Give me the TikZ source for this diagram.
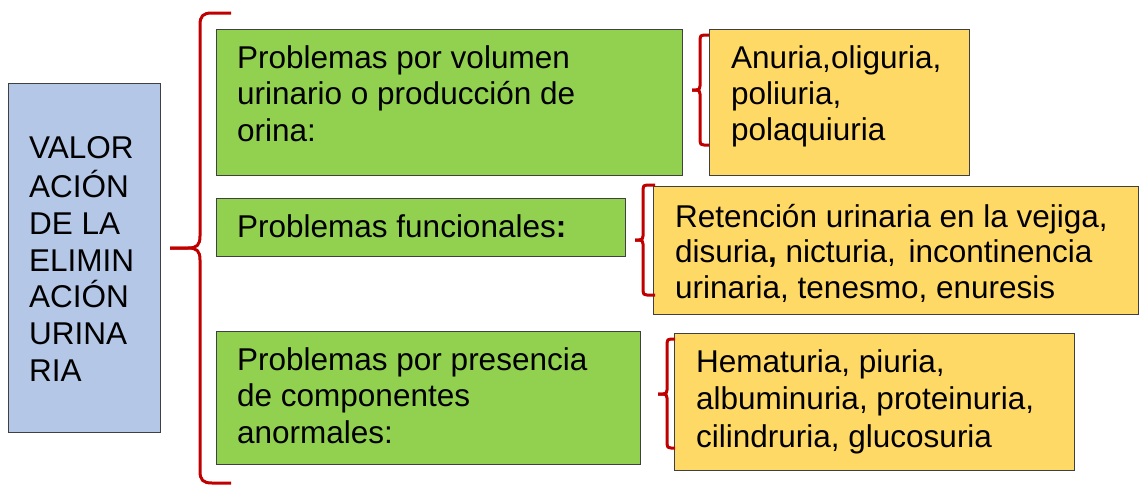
\documentclass[tikz,border=0pt]{standalone}
\usepackage{fontspec}
\setmainfont{Liberation Sans}
\definecolor{bluefill}{HTML}{B4C7E7}
\definecolor{greenfill}{HTML}{92D050}
\definecolor{yellowfill}{HTML}{FFD966}
\definecolor{bracered}{HTML}{C00000}
\definecolor{edgegray}{HTML}{404040}
\begin{document}
\begin{tikzpicture}[x=1pt,y=-1pt,
  boxbase/.style={draw=edgegray, line width=1.2pt, rectangle, inner sep=0pt, anchor=north west},
  bluebox/.style={boxbase, fill=bluefill},
  greenbox/.style={boxbase, fill=greenfill},
  yellowbox/.style={boxbase, fill=yellowfill},
  txt/.style={anchor=north west, inner sep=0pt, align=left, font=\fontsize{31.5}{36.7}\selectfont},
  bracestyle/.style={draw=bracered, line width=3pt, line cap=butt, line join=round}]
\useasboundingbox (0,0) rectangle (1139,485);
% boxes
\node[bluebox, minimum width=152pt, minimum height=349pt] (blue) at (8,83) {};
\node[greenbox, minimum width=466pt, minimum height=146pt] (g1) at (216,29) {};
\node[greenbox, minimum width=409pt, minimum height=58pt] (g2) at (216,198) {};
\node[greenbox, minimum width=424pt, minimum height=133pt] (g3) at (216,331) {};
\node[yellowbox, minimum width=260pt, minimum height=146pt] (y1) at (709,29) {};
\node[yellowbox, minimum width=485pt, minimum height=128pt] (y2) at (653,186) {};
\node[yellowbox, minimum width=400pt, minimum height=137pt] (y3) at (674,333) {};
% texts
\node[txt] (bluet) at (29,132.6) {\strut VALOR\\ACIÓN\\DE LA\\ELIMIN\\ACIÓN\\URINA\\RIA};
\node[txt] (g1t) at (237,42.3) {\strut Problemas por volumen\\urinario o producción de\\orina:};
\node[txt] (g2t) at (237,211.3) {\strut Problemas funcionales\textbf{:}};
\node[txt] (g3t) at (237,344.3) {\strut Problemas por presencia\\de componentes\\anormales:};
\node[txt, font=\fontsize{31.5}{36}\selectfont] (y1t) at (731,42.8) {\strut Anuria,oliguria,\\poliuria,\\polaquiuria};
\node[txt, font=\fontsize{31.5}{35.7}\selectfont] (y2t) at (675,202) {\strut Retención urinaria en la vejiga,\\disuria\textbf{,} nicturia,\hspace{4pt} incontinencia\\urinaria, tenesmo, enuresis};
\node[txt, font=\fontsize{31.5}{37.4}\selectfont] (y3t) at (696,346.2) {\strut Hematuria, piuria,\\albuminuria, proteinuria,\\cilindruria, glucosuria};
% braces
\coordinate (bigtip) at (170,248);
\coordinate (b1tip) at (692,90);
\coordinate (b2tip) at (635,240);
\coordinate (b3tip) at (658,394);
\draw[bracestyle] (231,13) -- (212,13) .. controls (203,13) and (200,16) .. (200,25)
  -- (200,236) .. controls (200,245) and (197,248) .. (188,248) -- (bigtip);
\draw[bracestyle] (bigtip) -- (188,248) .. controls (197,248) and (200,251) .. (200,260)
  -- (200,471) .. controls (200,480) and (203,483) .. (212,483) -- (231,483);
\draw[bracestyle] (709,35) -- (704,35) .. controls (701,35) and (700,36) .. (700,39)
  -- (700,86) .. controls (700,89) and (699,90) .. (696,90) -- (b1tip);
\draw[bracestyle] (b1tip) -- (696,90) .. controls (699,90) and (700,91) .. (700,94)
  -- (700,141) .. controls (700,144) and (701,145) .. (704,145) -- (709,145);
\draw[bracestyle] (655,185) -- (647,185) .. controls (644,185) and (643,186) .. (643,189)
  -- (643,236) .. controls (643,239) and (642,240) .. (639,240) -- (b2tip);
\draw[bracestyle] (b2tip) -- (639,240) .. controls (642,240) and (643,241) .. (643,244)
  -- (643,291) .. controls (643,294) and (644,295) .. (647,295) -- (655,295);
\draw[bracestyle] (675,339) -- (671,339) .. controls (668,339) and (667,340) .. (667,343)
  -- (667,390) .. controls (667,393) and (666,394) .. (663,394) -- (b3tip);
\draw[bracestyle] (b3tip) -- (663,394) .. controls (666,394) and (667,395) .. (667,398)
  -- (667,444) .. controls (667,447) and (668,448) .. (671,448) -- (675,448);
\end{tikzpicture}
\end{document}
